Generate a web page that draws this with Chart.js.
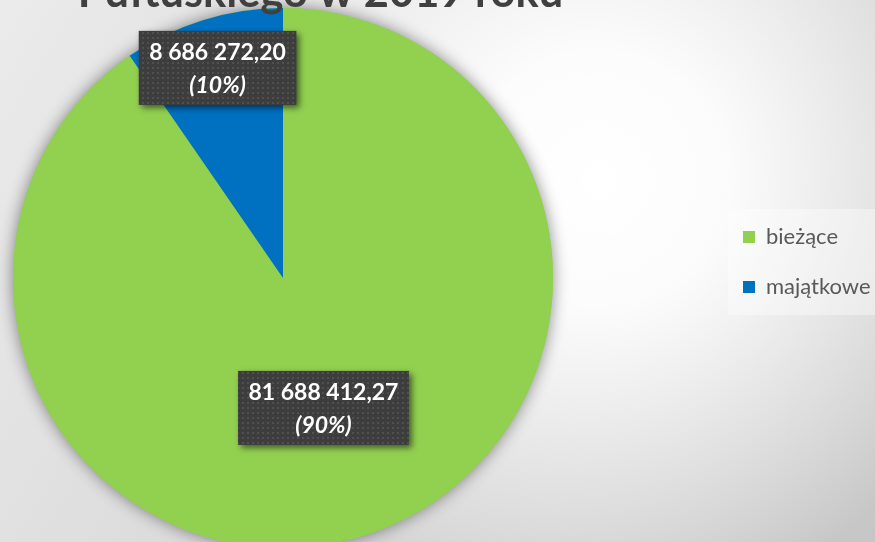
<!DOCTYPE html>
<html>
<head>
<meta charset="utf-8">
<script src="https://cdn.jsdelivr.net/npm/chart.js@4"></script>
<style>
html,body{margin:0;padding:0;overflow:hidden;background:#e4e4e4}
#wrap{position:relative;width:875px;height:542px;overflow:hidden}
#c{position:absolute;left:-200px;top:0;width:1200px;height:542px}
</style>
</head>
<body>
<div id="wrap"><canvas id="c" width="1200" height="542"></canvas></div>
<script>
// ---- data ----
const categories = ['bieżące', 'majątkowe'];
const values = [81688412.27, 8686272.20];
const sliceColors = ['#92d050', '#0070c0'];
const titleText = 'Pułtuskiego w 2019 roku';

// ---- layout constants (page pixels) ----
const SHIFT = 200;              // canvas is shifted left by this much
const PIE_CX = 283, PIE_CY = 278, PIE_R = 270;
const LEGEND_LEFT = 715;
const LEGEND_TOP = 198;
const LABEL_RADIUS_FRAC = [0.504, 0.815];
const FONT = 'Lato, "Open Sans", sans-serif';

function fmt(v) {
  const parts = v.toFixed(2).split('.');
  return parts[0].replace(/\B(?=(\d{3})+(?!\d))/g, ' ') + ',' + parts[1];
}

const canvas = document.getElementById('c');

const bgPlugin = {
  id: 'bg',
  beforeDraw(chart) {
    const ctx = chart.ctx;
    ctx.save();
    ctx.translate(SHIFT, 0);
    const lin = ctx.createLinearGradient(0, 0, 875, 542);
    lin.addColorStop(0, '#ebebeb');
    lin.addColorStop(1, '#c6c6c6');
    ctx.fillStyle = lin;
    ctx.fillRect(-SHIFT, 0, chart.width, chart.height);
    const rad = ctx.createRadialGradient(600, 180, 0, 600, 180, 430);
    rad.addColorStop(0, 'rgba(255,255,255,1)');
    rad.addColorStop(0.3, 'rgba(255,255,255,0.92)');
    rad.addColorStop(1, 'rgba(255,255,255,0)');
    ctx.fillStyle = rad;
    ctx.fillRect(-SHIFT, 0, chart.width, chart.height);
    ctx.restore();
    // legend background panel
    const hb = chart.legend && chart.legend.legendHitBoxes;
    if (hb && hb.length) {
      const first = hb[0], last = hb[hb.length - 1];
      ctx.save();
      ctx.fillStyle = 'rgba(255,255,255,0.38)';
      const x0 = first.left - 15, y0 = first.top - 17;
      ctx.fillRect(x0, y0, chart.width - x0, (last.top + last.height + 17) - y0);
      ctx.restore();
    }
  },
  beforeDatasetsDraw(chart) {
    const meta = chart.getDatasetMeta(0);
    const a = meta.data[0];
    if (!a) return;
    const ctx = chart.ctx;
    ctx.save();
    ctx.shadowColor = 'rgba(0,0,0,0.45)';
    ctx.shadowBlur = 16;
    ctx.beginPath();
    ctx.arc(a.x, a.y, a.outerRadius, 0, Math.PI * 2);
    ctx.fillStyle = sliceColors[0];
    ctx.fill();
    ctx.restore();
  },
  afterDatasetsDraw(chart) {
    const ctx = chart.ctx;
    const meta = chart.getDatasetMeta(0);
    const total = values.reduce((s, v) => s + v, 0);
    // texture pattern for label boxes
    const pc = document.createElement('canvas');
    pc.width = 5; pc.height = 5;
    const pctx = pc.getContext('2d');
    pctx.fillStyle = '#3d3d3d';
    pctx.fillRect(0, 0, 5, 5);
    pctx.fillStyle = '#505050';
    pctx.fillRect(2, 2, 2, 2);
    const pattern = ctx.createPattern(pc, 'repeat');

    meta.data.forEach((arc, i) => {
      const mid = (arc.startAngle + arc.endAngle) / 2;
      const r = arc.outerRadius * LABEL_RADIUS_FRAC[i];
      const cx = arc.x + Math.cos(mid) * r;
      const cy = arc.y + Math.sin(mid) * r;
      const l1 = fmt(values[i]);
      const l2 = '(' + Math.round(values[i] / total * 100) + '%)';
      ctx.save();
      ctx.font = 'bold 23px ' + FONT;
      const w1 = ctx.measureText(l1).width;
      ctx.font = 'italic bold 23px ' + FONT;
      const w2 = ctx.measureText(l2).width;
      const bw = Math.max(w1, w2) + 21;
      const bh = 74;
      const bx = cx - bw / 2, by = cy - bh / 2;
      ctx.shadowColor = 'rgba(0,0,0,0.55)';
      ctx.shadowBlur = 6;
      ctx.shadowOffsetX = 3;
      ctx.shadowOffsetY = 3;
      ctx.fillStyle = pattern;
      ctx.fillRect(bx, by, bw, bh);
      ctx.shadowColor = 'transparent';
      ctx.fillStyle = '#ffffff';
      ctx.textAlign = 'center';
      ctx.textBaseline = 'alphabetic';
      ctx.font = 'bold 23px ' + FONT;
      ctx.fillText(l1, cx, by + 29);
      ctx.font = 'italic bold 23px ' + FONT;
      ctx.fillText(l2, cx, by + 62);
      ctx.restore();
    });

    // chart title (only its lower line is visible in the frame)
    ctx.save();
    ctx.fillStyle = '#404040';
    ctx.textAlign = 'center';
    ctx.textBaseline = 'alphabetic';
    ctx.font = 'bold 40px ' + FONT;
    const tw = ctx.measureText(titleText).width;
    const size = 40 * 485 / tw;
    ctx.font = 'bold ' + size.toFixed(1) + 'px ' + FONT;
    ctx.fillText(titleText, 320.5 + SHIFT, 7);
    ctx.restore();
  }
};

const chart = new Chart(canvas.getContext('2d'), {
  type: 'pie',
  data: {
    labels: categories,
    datasets: [{
      data: values,
      backgroundColor: sliceColors,
      borderWidth: 0,
      radius: PIE_R,
      clip: false
    }]
  },
  options: {
    responsive: false,
    animation: false,
    radius: PIE_R,
    layout: {
      padding: {
        left: 2 * (PIE_CX + SHIFT) - (LEGEND_LEFT + SHIFT),
        right: 0,
        top: LEGEND_TOP,
        bottom: 542 - (2 * PIE_CY - LEGEND_TOP)
      }
    },
    plugins: {
      title: { display: false },
      tooltip: { enabled: false },
      legend: {
        position: 'right',
        align: 'start',
        labels: {
          boxWidth: 12,
          boxHeight: 12,
          padding: 28,
          color: '#595959',
          font: { family: FONT, size: 22 }
        }
      }
    }
  },
  plugins: [bgPlugin]
});

// place the legend so its left edge sits at LEGEND_LEFT (page px)
chart.options.layout.padding.right = canvas.width - (LEGEND_LEFT + SHIFT) - chart.legend.width;
chart.update('none');
</script>
</body>
</html>
